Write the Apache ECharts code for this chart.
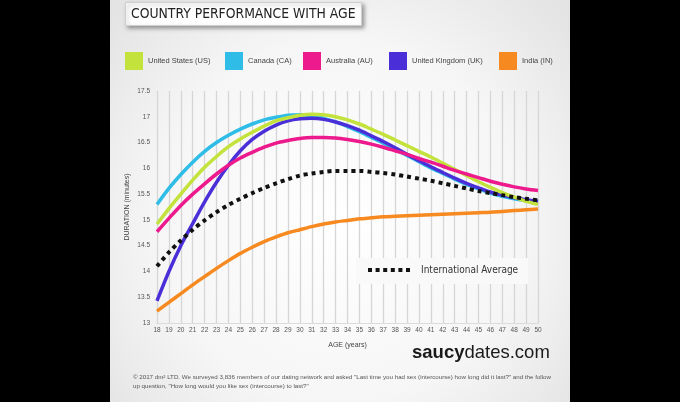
<!DOCTYPE html>
<html><head><meta charset="utf-8">
<script src="https://cdn.jsdelivr.net/npm/echarts@6/dist/echarts.min.js"></script>
<style>html,body{margin:0;padding:0;background:#000;}#c{width:680px;height:402px;}</style>
</head><body><div id="c"></div>
<script>
// ---- data (minutes by age) ----
const ages = [18,19,20,21,22,23,24,25,26,27,28,29,30,31,32,33,34,35,36,37,38,39,40,41,42,43,44,45,46,47,48,49,50];
const us        = [14.92,15.22,15.50,15.77,16.02,16.23,16.42,16.57,16.70,16.82,16.92,16.98,17.03,17.05,17.04,17.00,16.94,16.86,16.76,16.66,16.55,16.44,16.33,16.22,16.10,15.98,15.86,15.74,15.63,15.53,15.44,15.36,15.30];
const canada    = [15.30,15.61,15.88,16.12,16.33,16.50,16.64,16.76,16.86,16.94,16.99,17.03,17.04,17.02,16.97,16.90,16.81,16.71,16.60,16.49,16.37,16.25,16.13,16.01,15.90,15.79,15.69,15.60,15.52,15.46,15.41,15.37,15.34];
const australia = [14.77,15.03,15.28,15.50,15.70,15.89,16.06,16.20,16.31,16.41,16.49,16.54,16.58,16.60,16.60,16.59,16.56,16.52,16.47,16.41,16.34,16.27,16.19,16.12,16.04,15.96,15.89,15.82,15.75,15.69,15.64,15.60,15.57];
const uk        = [13.43,14.00,14.50,14.93,15.35,15.73,16.06,16.34,16.56,16.72,16.84,16.92,16.96,16.97,16.95,16.90,16.83,16.74,16.63,16.52,16.40,16.27,16.15,16.03,15.92,15.81,15.71,15.62,15.54,15.48,15.43,15.39,15.36];
const india     = [13.23,13.40,13.57,13.74,13.90,14.06,14.21,14.35,14.47,14.58,14.67,14.75,14.81,14.87,14.92,14.96,14.99,15.02,15.04,15.06,15.07,15.08,15.09,15.10,15.11,15.12,15.13,15.14,15.15,15.165,15.18,15.195,15.21];
const average   = [14.10,14.37,14.60,14.81,14.99,15.15,15.29,15.41,15.52,15.62,15.71,15.79,15.86,15.90,15.93,15.95,15.95,15.95,15.93,15.91,15.88,15.84,15.80,15.76,15.71,15.66,15.61,15.56,15.52,15.48,15.44,15.41,15.38];
const countryNames = ['United States (US)','Canada (CA)','Australia (AU)','United Kingdom (UK)','India (IN)'];
const averageName = 'International Average';
const titleText = 'COUNTRY PERFORMANCE WITH AGE';
const footerLines = [
  '\u00A9 2017 dm\u00B2 LTD. We surveyed 3,836 members of our dating network and asked "Last time you had sex (intercourse) how long did it last?" and the follow',
  'up question, "How long would you like sex (intercourse) to last?"'
];

const colors = ['#c3e23c','#2fbde8','#ec1a8c','#4a2fd8','#f6891f'];
const seriesValues = [us, canada, australia, uk, india];
const pairs = v => ages.map((a,i)=>[a, v[i]]);

const chart = echarts.init(document.getElementById('c'), null, {renderer:'canvas'});
const legendLeft = [125, 225, 303, 389, 499];
const baseFont = 'Liberation Sans, Arial, sans-serif';
const condFont = 'DejaVu Sans Condensed, Liberation Sans Narrow, sans-serif';
const dotsIcon = 'path://M0,0h4v4h-4zM7.6,0h4v4h-4zM15.2,0h4v4h-4zM22.8,0h4v4h-4zM30.4,0h4v4h-4zM38,0h4v4h-4z';

const drawOrder = [4,1,3,0,2];
const series = drawOrder.map(i => ({
  name: countryNames[i], type:'line', data: pairs(seriesValues[i]),
  smooth: 0.3, symbol:'none', color: colors[i],
  lineStyle:{width:3.5, color: colors[i]}
}));
series.push({
  name: averageName, type:'line', data: pairs(average), smooth: 0.3, symbol:'none',
  color:'#111', lineStyle:{width:4, color:'#111', type:[4,4], cap:'butt'}, z: 5
});

chart.setOption({
  backgroundColor:'#000',
  animation:false,
  title:{
    text:titleText, left:125, top:2,
    backgroundColor:'#fff', borderColor:'#cfcfcf', borderWidth:1,
    shadowColor:'rgba(0,0,0,0.35)', shadowBlur:4, shadowOffsetX:2, shadowOffsetY:2,
    padding:[5,6,5,6],
    textStyle:{fontFamily:condFont, fontSize:13.8, fontWeight:'normal', color:'#222'}
  },
  graphic:[
    {type:'rect', z:-100, shape:{x:110,y:0,width:460,height:402},
     style:{fill:{type:'radial', x:0.5, y:0.55, r:0.75,
       colorStops:[{offset:0,color:'#ffffff'},{offset:0.6,color:'#f6f6f6'},{offset:1,color:'#e4e4e4'}]}}},
    {type:'rect', z:2, shape:{x:356,y:258,width:172,height:26}, style:{fill:'#f9f9f9'}},
    {type:'text', z:5, left:412, top:343,
     style:{text:'{b|saucy}{r|dates.com}', rich:{
       b:{fontFamily:baseFont, fontSize:18.5, fontWeight:'bold', fill:'#1a1a1a'},
       r:{fontFamily:baseFont, fontSize:18.5, fontWeight:'normal', fill:'#1a1a1a'}}}},
    {type:'text', z:5, left:133, top:373,
     style:{text:footerLines.join('\n'), fontFamily:baseFont, fontSize:6.2, lineHeight:9, fill:'#555'}}
  ],
  legend: countryNames.map((n,i)=>({
    data:[n], left:legendLeft[i], top:52, padding:0, itemWidth:18, itemHeight:18, icon:'rect',
    textStyle:{fontFamily:baseFont, fontSize:7.5, color:'#444'}
  })).concat([{
    data:[{name:averageName, icon:dotsIcon}], left:368, top:265, padding:0, itemWidth:42, itemHeight:14, z:6,
    itemStyle:{color:'#111'},
    textStyle:{fontFamily:condFont, fontSize:10, color:'#333', padding:[0,0,0,6]}
  }]),
  grid:{left:157, right:142, top:91, bottom:79},
  xAxis:{
    type:'value', min:18, max:50, interval:1,
    name:'AGE (years)', nameLocation:'middle', nameGap:19, nameMoveOverlap:false,
    nameTextStyle:{fontFamily:baseFont, fontSize:7, color:'#444'},
    axisLine:{show:true, lineStyle:{color:'#dcdcdc'}}, axisTick:{show:false},
    axisLabel:{fontFamily:baseFont, fontSize:6.5, color:'#555', margin:4},
    splitLine:{show:true, lineStyle:{color:'#d6d6d6', width:1.3}}
  },
  yAxis:{
    type:'value', min:13, max:17.5, interval:0.5,
    name:'DURATION (minutes)', nameLocation:'middle', nameGap:26, nameRotate:90, nameMoveOverlap:false,
    nameTextStyle:{fontFamily:baseFont, fontSize:7, color:'#444'},
    axisLine:{show:false}, axisTick:{show:false},
    axisLabel:{fontFamily:baseFont, fontSize:6.5, color:'#555', margin:7},
    splitLine:{show:false}
  },
  series: series
});
</script>
</body></html>
